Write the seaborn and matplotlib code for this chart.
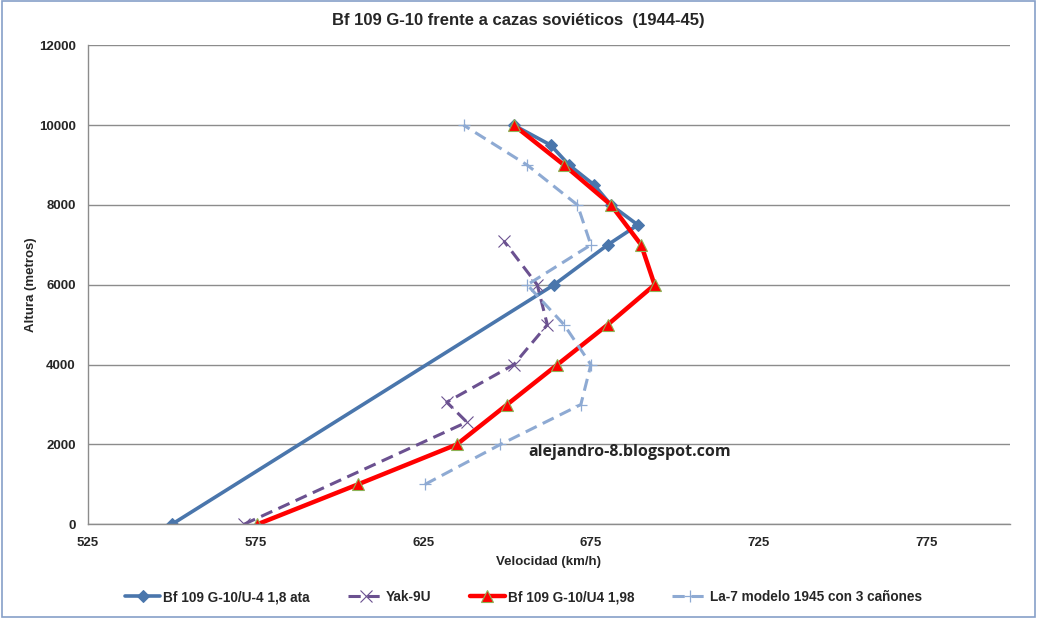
import matplotlib
matplotlib.use("Agg")
import matplotlib.pyplot as plt
import seaborn as sns
import pandas as pd
from matplotlib.patches import Rectangle

# Datos (velocidad km/h, altura m)
bf_18_vel = [550, 664, 680, 689, 681, 676, 668.5, 663, 652]
bf_18_alt = [0, 6000, 7000, 7500, 8000, 8500, 9000, 9500, 10000]

yak_vel = [571.5, 638, 632, 652, 662, 659, 649]
yak_alt = [0, 2560, 3060, 4000, 5000, 6000, 7100]

bf_198_vel = [575.5, 605.5, 635, 650, 665, 680, 694, 690, 681, 667, 652]
bf_198_alt = [0, 1000, 2000, 3000, 4000, 5000, 6000, 7000, 8000, 9000, 10000]

la7_vel = [625.5, 648, 672, 675, 667, 656, 675, 671, 656, 637]
la7_alt = [1000, 2000, 3000, 4000, 5000, 6000, 7000, 8000, 9000, 10000]

x_ticks = [525, 575, 625, 675, 725, 775]
y_ticks = [0, 2000, 4000, 6000, 8000, 10000, 12000]

sns.set_style("white")
plt.rcParams['font.family'] = ['Liberation Sans', 'DejaVu Sans']

fig = plt.figure(figsize=(10.37, 6.18), dpi=100)
ax = fig.add_axes([0.0849, 0.1516, 0.889, 0.7751])

series = [
    ("Bf 109 G-10/U-4 1,8 ata", bf_18_vel, bf_18_alt,
     dict(color="#4A76AC", lw=2.6, marker="D", markersize=6.5, markeredgecolor="#4A76AC",
          linestyle="-")),
    ("Yak-9U", yak_vel, yak_alt,
     dict(color="#6B5190", lw=2.2, marker="x", markersize=8, markeredgewidth=0.8,
          markeredgecolor="#6B5190", linestyle=(0, (4, 2.2)))),
    ("Bf 109 G-10/U4 1,98", bf_198_vel, bf_198_alt,
     dict(color="#FF0000", lw=3.2, marker="^", markersize=9, markeredgecolor="#8DB255",
          markeredgewidth=0.8, markerfacecolor="#FF0000", linestyle="-")),
    ("La-7 modelo 1945 con 3 cañones", la7_vel, la7_alt,
     dict(color="#8EAAD3", lw=2.2, marker="+", markersize=9, markeredgewidth=0.9,
          markeredgecolor="#8EAAD3", linestyle=(0, (4, 2.2)))),
]

for nombre, vel, alt, estilo in series:
    df = pd.DataFrame({"vel": vel, "alt": alt})
    sns.lineplot(data=df, x="vel", y="alt", sort=False, estimator=None, ax=ax,
                 label=nombre, **estilo)

ax.set_xlim(525, 800)
ax.set_ylim(0, 12000)
ax.set_xticks(x_ticks)
ax.set_yticks(y_ticks)
ax.yaxis.grid(True, color="#8C8C8C", lw=1)
ax.xaxis.grid(False)
ax.set_axisbelow(True)
for s in ["top", "right"]:
    ax.spines[s].set_visible(False)
for s in ["left", "bottom"]:
    ax.spines[s].set_color("#8C8C8C")
    ax.spines[s].set_linewidth(1)
ax.tick_params(axis="both", direction="out", length=5, width=1, color="#8C8C8C",
               labelsize=9.5, pad=4)
for lbl in ax.get_xticklabels() + ax.get_yticklabels():
    lbl.set_fontweight("bold")

ax.set_xlabel("Velocidad (km/h)", fontsize=9.5, fontweight="bold", labelpad=5)
ax.set_ylabel("Altura (metros)", fontsize=9.5, fontweight="bold", labelpad=1)
fig.text(0.5, 1 - 20 / 618, "Bf 109 G-10 frente a cazas soviéticos  (1944-45)",
         ha="center", va="center", fontsize=12, fontweight="bold")

fig.text(528 / 1037, 1 - 452 / 618, "alejandro-8.blogspot.com", ha="left", va="center",
         fontsize=11.5, fontweight="bold", family=["Open Sans", "DejaVu Sans"])

ax.get_legend().remove()
handles, labels = ax.get_legend_handles_labels()
fig.legend(handles, labels, loc="center", bbox_to_anchor=(0.505, 1 - 597 / 618), ncol=4,
           frameon=False, prop={"weight": "bold", "size": 9.8}, handlelength=2.6,
           handletextpad=0.2, columnspacing=2.8)

fig.patches.append(Rectangle((0.0015, 0.0015), 0.997, 0.997, transform=fig.transFigure,
                             fill=False, edgecolor="#86A0C8", lw=1.2))

fig.savefig("out.png", dpi=100)
